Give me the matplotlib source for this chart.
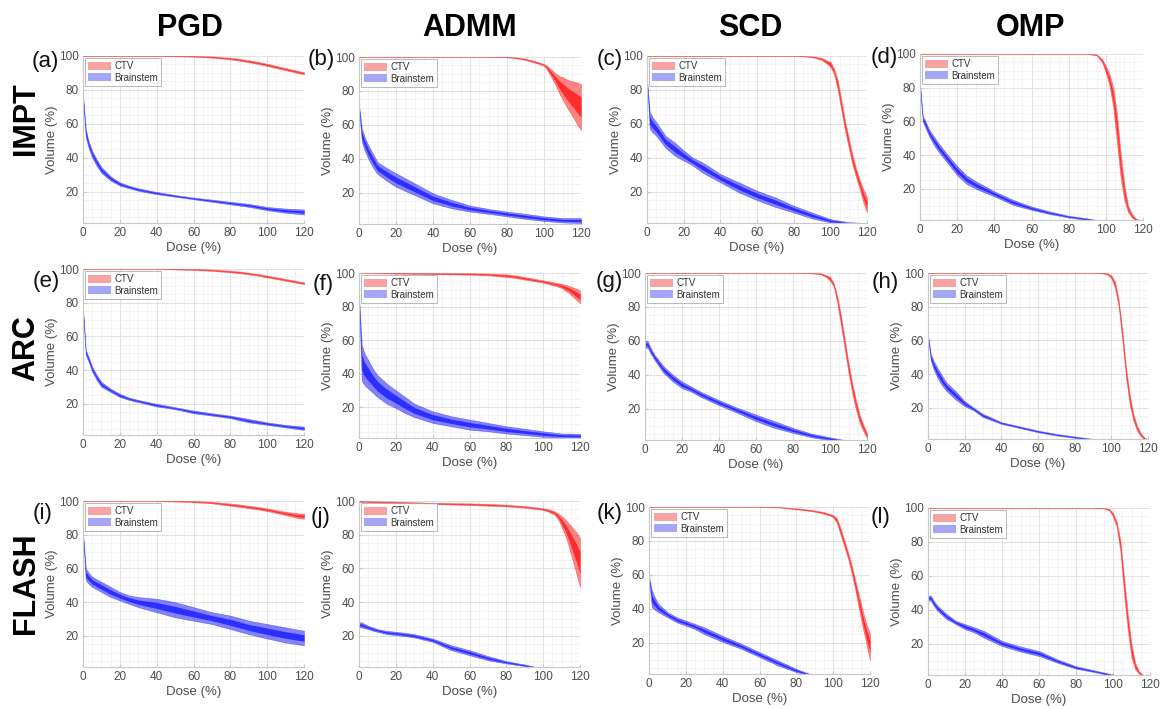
"""Dose-volume histogram bands: 3 delivery modes x 4 optimisation methods."""

import matplotlib
matplotlib.use('Agg')
import matplotlib.pyplot as plt
import numpy as np
from matplotlib.patches import Patch
from matplotlib.ticker import MultipleLocator

plt.rcParams['font.family'] = ['Liberation Sans', 'DejaVu Sans']

# ---------------------------------------------------------------------------
# Data
# ---------------------------------------------------------------------------

METHODS = ['PGD', 'ADMM', 'SCD', 'OMP']
MODES = ['IMPT', 'ARC', 'FLASH']
TAGS = ['a', 'b', 'c', 'd', 'e', 'f', 'g', 'h', 'i', 'j', 'k', 'l']

DOSE_OAR = [0, 1.5, 3, 5, 7.5, 10, 15, 20, 25, 30, 40, 50, 60, 70, 80, 90, 100, 110, 120]
DOSE_CTV = [0, 20, 40, 60, 70, 80, 85, 90, 95, 98, 100, 102, 104, 106, 108, 110, 112, 114, 116, 118, 120]

# brainstem (lower / upper edge of band)
a_oar_lo = [75, 52, 46, 40, 35, 31, 26.5, 23.5, 22, 20.5, 18.5, 17, 15.5, 14, 12.5, 11, 9, 7.5, 6.5]
a_oar_hi = [77, 57, 50, 44, 39, 34.5, 29, 25.5, 23.5, 22, 19.8, 18, 16.5, 15.3, 14, 12.8, 11, 10, 9.5]
b_oar_lo = [70, 50, 45, 40, 35, 31, 27, 23.5, 21, 18.6, 13.7, 10.8, 8.8, 7.5, 6, 4.5, 3.3, 2.4, 2]
b_oar_hi = [72, 58, 53, 48, 43, 38, 34.5, 31.4, 28.5, 25.5, 19.6, 15.7, 12.4, 10.4, 8.8, 7.5, 6, 5, 5]
c_oar_lo = [85, 57, 55, 53, 49.5, 46, 41.3, 38.3, 35.4, 31.4, 25.5, 19.6, 15, 11, 7.7, 4.2, 1.8, 0.5, 0]
c_oar_hi = [86, 67, 64, 61, 57, 53, 49, 44.3, 40, 37.4, 30.4, 25.5, 20.5, 16.6, 11.7, 7.7, 3.8, 2, 1.5]
d_oar_lo = [80, 60, 56, 51, 46, 42, 35, 28, 23, 20, 15.5, 10.5, 7.5, 5, 3, 1.5, 0, 0, 0]
d_oar_hi = [82, 63, 60, 55, 51, 47, 40, 33.5, 28, 24.5, 18.5, 13.5, 9.5, 6.5, 4, 2.5, 0.5, 0, 0]
e_oar_lo = [75, 49, 45, 39, 34, 30, 27, 24, 22.3, 21, 18.4, 16.8, 14.4, 13, 11.5, 9, 7.5, 6, 4.5]
e_oar_hi = [77, 52, 48, 42, 37, 33, 29, 26, 23.7, 22.3, 20, 18, 16, 14.4, 13, 11, 9, 7.5, 6.5]
f_oar_lo = [84, 36, 33, 31, 28.5, 26, 22, 19.4, 16.4, 14, 10.5, 8.5, 6.5, 5.5, 4.2, 3.2, 2.2, 1.6, 1.4]
f_oar_hi = [86, 57, 52, 48, 43, 39, 34, 30, 26, 22, 17.4, 14.5, 12.5, 10.5, 8.5, 7, 5.5, 4.2, 4]
g_oar_lo = [56, 55.8, 52.5, 49, 45, 41, 36, 32, 30, 27, 22, 17.5, 12.6, 8.6, 5.7, 3.1, 1.4, 0, 0]
g_oar_hi = [60, 59.7, 56, 52, 48.5, 45, 40, 36, 33, 30, 25, 20.5, 16.5, 12.6, 8.6, 5.3, 3.1, 1, 0]
h_oar_lo = [62, 48, 43, 38, 33.5, 30, 25, 21, 18.4, 14.5, 10.5, 8, 5.5, 3.6, 2.2, 0.8, 0, 0, 0]
h_oar_hi = [63, 52, 48, 44, 39.5, 35, 30, 24, 20, 16.4, 11.5, 9, 6.5, 4.5, 3, 1.6, 0, 0, 0]
i_oar_lo = [80, 53, 51, 49, 47.5, 46, 43, 41, 39, 37, 34, 31, 29, 27, 24, 21, 18.4, 16, 14.4]
i_oar_hi = [81, 60, 57.5, 55, 53.5, 52, 49, 46, 44, 43, 42, 40, 37, 34, 32, 29, 27, 25, 23]
j_oar_lo = [25, 25, 24.5, 24, 23, 22.4, 21, 20.4, 19.8, 19, 16.4, 11.5, 8.5, 5.5, 3.6, 2, 0, 0, 0]
j_oar_hi = [28, 28, 27, 26, 25, 24, 23, 22.4, 21.8, 21, 18.4, 14.4, 11.5, 8, 5, 3, 0.5, 0, 0]
k_oar_lo = [58, 41, 39.5, 38, 36.5, 35, 32, 30, 28, 25, 20.4, 16.4, 11.5, 6.5, 2.6, 0, 0, 0, 0]
k_oar_hi = [59, 51, 47, 43, 40.5, 38, 35, 33, 31, 29, 24, 19.4, 14.4, 9.5, 4.5, 0.5, 0, 0, 0]
l_oar_lo = [45.4, 45.4, 42.5, 39.5, 37, 34.5, 31.5, 28.5, 26.6, 23.6, 18.6, 15.3, 12.7, 8.7, 5.2, 3.2, 0.8, 0, 0]
l_oar_hi = [48.4, 48.4, 45.5, 42.5, 40, 37.5, 33.5, 31.5, 29.6, 27.6, 21.6, 18.3, 15.7, 10.7, 6.7, 4.2, 1.8, 0, 0]

# CTV (lower / upper edge of band)
a_ctv_lo = [100, 100, 100, 99.6, 99, 98, 97.2, 96.3, 95.3, 94.6, 94.1, 93.6, 93.1, 92.6, 92.1, 91.6, 91.1, 90.6, 90.1, 89.6, 89.2]
a_ctv_hi = [100, 100, 100, 100, 99.8, 99, 98.3, 97.5, 96.5, 95.9, 95.4, 94.9, 94.4, 93.9, 93.4, 92.9, 92.4, 91.9, 91.4, 90.9, 90.6]
b_ctv_lo = [100, 100, 100, 100, 100, 99.8, 99.2, 98.2, 96.6, 95.6, 94.8, 92, 88, 84, 79, 75, 71, 67.5, 64, 60, 57]
b_ctv_hi = [100, 100, 100, 100, 100, 100, 99.8, 99, 97.6, 96.6, 95.8, 94.5, 92.5, 90.5, 89, 88, 87, 86, 85.5, 85, 84]
c_ctv_lo = [100, 100, 100, 100, 100, 100, 99.8, 99.3, 97.8, 95.5, 93.5, 89.5, 80, 68, 56, 46, 36, 28.5, 21.5, 13.6, 7.7]
c_ctv_hi = [100, 100, 100, 100, 100, 100, 100, 99.8, 99, 97.5, 96.6, 92.7, 86, 74, 62, 52, 42, 34, 27, 21.5, 16.6]
d_ctv_lo = [100, 100, 100, 100, 100, 100, 100, 100, 99.2, 95, 89, 81, 68, 47, 26, 13, 6, 3, 1.5, 0.5, 0]
d_ctv_hi = [100, 100, 100, 100, 100, 100, 100, 100, 99.8, 97, 93, 88, 80, 65, 41, 22, 10, 5, 2.5, 1.5, 1]
e_ctv_lo = [100, 100, 100, 99.4, 98.9, 98, 97.5, 96.8, 96, 95.4, 95, 94.6, 94.2, 93.8, 93.4, 93, 92.6, 92.2, 91.8, 91.4, 91]
e_ctv_hi = [100, 100, 100, 100, 99.7, 99, 98.5, 97.8, 97, 96.5, 96.1, 95.7, 95.3, 94.9, 94.5, 94.1, 93.7, 93.3, 92.9, 92.5, 92.2]
f_ctv_lo = [100, 99.6, 99.3, 99, 98.6, 97.6, 97, 96, 95.2, 94.6, 94.2, 93.6, 93, 92.5, 91.8, 91, 89.5, 88, 86, 84, 81.8]
f_ctv_hi = [100, 100, 100, 99.9, 99.7, 99.2, 98.6, 97.6, 96.6, 96, 95.6, 95.2, 94.8, 94.4, 94, 93.6, 93, 92.3, 91.5, 90.6, 89.7]
g_ctv_lo = [100, 100, 100, 100, 100, 100, 100, 99.8, 99.2, 97.5, 95.5, 92, 82, 68.5, 55, 41, 29, 19.4, 11.6, 6.7, 2.7]
g_ctv_hi = [100, 100, 100, 100, 100, 100, 100, 100, 99.8, 98.7, 97.8, 94, 86, 74.5, 60.7, 47, 35, 25.3, 16.5, 10.6, 5.7]
h_ctv_lo = [100, 100, 100, 100, 100, 100, 100, 100, 99.8, 99, 97, 91, 80, 60, 38, 22, 12.5, 6.5, 3.2, 1.2, 0]
h_ctv_hi = [100, 100, 100, 100, 100, 100, 100, 100, 100, 99.8, 98.6, 95, 84, 66, 44, 28, 16.4, 9.5, 5, 2.5, 1]
i_ctv_lo = [100, 100, 100, 99.3, 98.6, 97.2, 96.5, 95.7, 95, 94.4, 94, 93.6, 93.1, 92.6, 92.1, 91.6, 91.1, 90.6, 90.1, 89.7, 89.4]
i_ctv_hi = [100, 100, 100, 100, 99.5, 98.5, 97.9, 97.2, 96.5, 96, 95.6, 95.2, 94.8, 94.4, 94, 93.6, 93.3, 93, 92.8, 92.6, 92.5]
j_ctv_lo = [99.5, 98.8, 98.2, 97.6, 97.2, 96.8, 96.4, 96, 95.4, 95, 94.7, 94, 93, 92, 89.5, 84.6, 79.6, 72.7, 64.8, 57, 49]
j_ctv_hi = [100, 99.6, 99, 98.6, 98.3, 97.8, 97.4, 97, 96.4, 96, 95.7, 95.3, 94.8, 94, 92.8, 91, 89, 86.5, 84, 81.5, 78]
k_ctv_lo = [100, 100, 100, 100, 99.8, 98.6, 98, 97.2, 96, 95, 94, 90.5, 83.6, 76.7, 69.8, 61, 51, 40, 29, 19.4, 9.5]
k_ctv_hi = [100, 100, 100, 100, 100, 99.2, 98.7, 98, 97, 96, 95.2, 93.5, 87.5, 80.6, 73.7, 65.8, 57, 48, 39, 31, 25.3]
l_ctv_lo = [100, 100, 100, 100, 100, 100, 100, 100, 99.8, 98.5, 95, 89, 74, 49, 27.6, 11.7, 4.8, 2.2, 0.8, 0, 0]
l_ctv_hi = [100, 100, 100, 100, 100, 100, 100, 100, 100, 99.5, 97, 92, 81, 59, 37.5, 19.6, 8.7, 3.8, 1.8, 0.8, 0]

OAR = {
    'a': (a_oar_lo, a_oar_hi), 'b': (b_oar_lo, b_oar_hi), 'c': (c_oar_lo, c_oar_hi),
    'd': (d_oar_lo, d_oar_hi), 'e': (e_oar_lo, e_oar_hi), 'f': (f_oar_lo, f_oar_hi),
    'g': (g_oar_lo, g_oar_hi), 'h': (h_oar_lo, h_oar_hi), 'i': (i_oar_lo, i_oar_hi),
    'j': (j_oar_lo, j_oar_hi), 'k': (k_oar_lo, k_oar_hi), 'l': (l_oar_lo, l_oar_hi),
}
CTV = {
    'a': (a_ctv_lo, a_ctv_hi), 'b': (b_ctv_lo, b_ctv_hi), 'c': (c_ctv_lo, c_ctv_hi),
    'd': (d_ctv_lo, d_ctv_hi), 'e': (e_ctv_lo, e_ctv_hi), 'f': (f_ctv_lo, f_ctv_hi),
    'g': (g_ctv_lo, g_ctv_hi), 'h': (h_ctv_lo, h_ctv_hi), 'i': (i_ctv_lo, i_ctv_hi),
    'j': (j_ctv_lo, j_ctv_hi), 'k': (k_ctv_lo, k_ctv_hi), 'l': (l_ctv_lo, l_ctv_hi),
}

# ---------------------------------------------------------------------------
# Layout (pixel boxes: left, top, right, bottom)
# ---------------------------------------------------------------------------

FIG_W, FIG_H = 1165, 709

AX_BOX = {
    'a': (83, 56, 304, 223), 'b': (359, 57, 581, 224),
    'c': (647, 56, 867, 223), 'd': (920, 54, 1143, 220),
    'e': (83, 269, 304, 435), 'f': (359, 273, 580, 438),
    'g': (645, 273, 867, 440), 'h': (928, 273, 1148, 439),
    'i': (83, 501, 304, 667), 'j': (359, 501, 580, 667),
    'k': (649, 507, 870, 674), 'l': (928, 508, 1150, 675),
}
TAG_POS = {
    'a': (45, 62), 'b': (321, 60), 'c': (610, 60), 'd': (884, 58),
    'e': (46, 281), 'f': (323, 284), 'g': (609, 281), 'h': (885, 282),
    'i': (43, 513), 'j': (321, 517), 'k': (610, 513), 'l': (881, 517),
}
COL_X = [190, 470, 750, 1030]
ROW_Y = [119, 348, 583]

RED = '#ff0a0a'
BLUE = '#0a0aff'
GREY_TXT = '#4d4d4d'


def px_rect(box):
    l, t, r, b = box
    return [l / FIG_W, 1 - b / FIG_H, (r - l) / FIG_W, (b - t) / FIG_H]


def draw_band(ax, x, lo, hi, color):
    """Outer light band plus a denser core, mimicking overlapping scenarios."""
    lo = np.asarray(lo, float)
    hi = np.asarray(hi, float)
    ax.fill_between(x, lo, hi, color=color, alpha=0.5, lw=0.4, edgecolor=color)
    ax.fill_between(x, 0.72 * lo + 0.28 * hi, 0.28 * lo + 0.72 * hi,
                    color=color, alpha=0.7, lw=0)


def style_axes(ax):
    ax.set_xlim(0, 120)
    ax.set_ylim(1.5, 100)
    ax.xaxis.set_major_locator(MultipleLocator(20))
    ax.yaxis.set_major_locator(MultipleLocator(20))
    ax.xaxis.set_minor_locator(MultipleLocator(5))
    ax.yaxis.set_minor_locator(MultipleLocator(5))
    ax.grid(which='major', color='#dcdcdc', lw=0.6)
    ax.grid(which='minor', color='#efefef', lw=0.5)
    ax.set_axisbelow(True)
    for side in ('top', 'right'):
        ax.spines[side].set_visible(False)
    for side in ('left', 'bottom'):
        ax.spines[side].set_color('#c8c8c8')
        ax.spines[side].set_linewidth(0.8)
    ax.tick_params(which='both', direction='in', length=2, color='#c8c8c8',
                   labelsize=8.5, labelcolor=GREY_TXT, pad=3)
    ax.tick_params(which='minor', length=0)
    ax.set_xlabel('Dose (%)', fontsize=9.5, color=GREY_TXT, labelpad=2)
    ax.set_ylabel('Volume (%)', fontsize=9.5, color=GREY_TXT, labelpad=1)


fig = plt.figure(figsize=(FIG_W / 100, FIG_H / 100), dpi=100)

legend_handles = [
    Patch(facecolor='#f7a3a3', edgecolor='none', label='CTV'),
    Patch(facecolor='#a6a6f7', edgecolor='none', label='Brainstem'),
]

for tag in TAGS:
    ax = fig.add_axes(px_rect(AX_BOX[tag]))
    lo, hi = OAR[tag]
    draw_band(ax, DOSE_OAR, lo, hi, BLUE)
    lo, hi = CTV[tag]
    draw_band(ax, DOSE_CTV, lo, hi, RED)
    style_axes(ax)
    leg = ax.legend(handles=legend_handles, loc='upper left', fontsize=7,
                    frameon=True, fancybox=False, borderpad=0.3,
                    handlelength=2.3, handleheight=0.9, handletextpad=0.4,
                    labelspacing=0.15, borderaxespad=0.25)
    leg.get_frame().set_edgecolor('#9a9a9a')
    leg.get_frame().set_linewidth(0.6)
    for txt in leg.get_texts():
        txt.set_color('#333333')

    tx, ty = TAG_POS[tag]
    fig.text(tx / FIG_W, 1 - ty / FIG_H, f'({tag})', fontsize=16,
             ha='center', va='center', color='#111111')

for name, x in zip(METHODS, COL_X):
    fig.text(x / FIG_W, 1 - 28 / FIG_H, name, fontsize=22, fontweight='bold',
             ha='center', va='center')

for name, y in zip(MODES, ROW_Y):
    fig.text(26 / FIG_W, 1 - y / FIG_H, name, fontsize=22, fontweight='bold',
             ha='center', va='center', rotation=90)

fig.savefig('out.png', dpi=100)
